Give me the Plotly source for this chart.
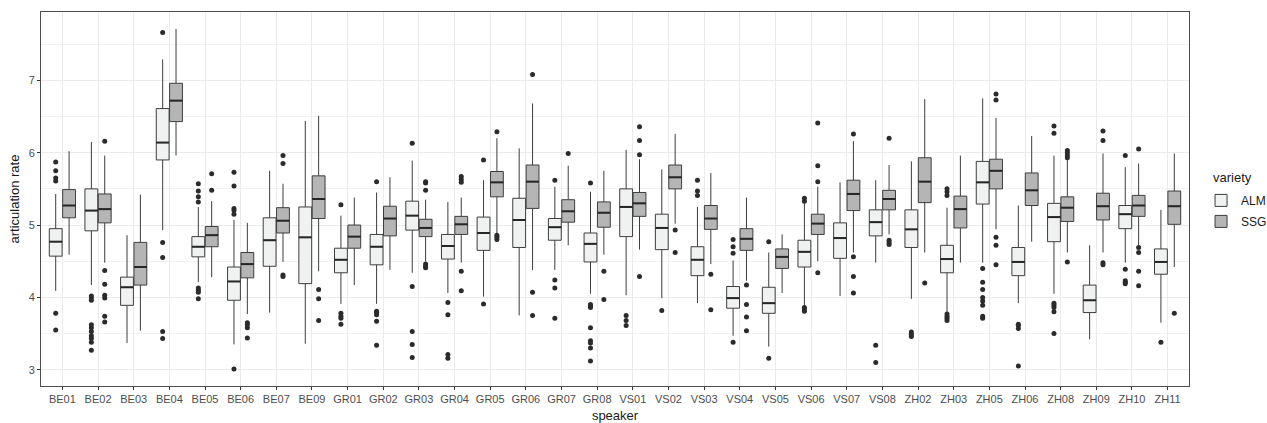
import plotly.graph_objects as go

speakers = ["BE01","BE02","BE03","BE04","BE05","BE06","BE07","BE09",
            "GR01","GR02","GR03","GR04","GR05","GR06","GR07","GR08",
            "VS01","VS02","VS03","VS04","VS05","VS06","VS07","VS08",
            "ZH02","ZH03","ZH05","ZH06","ZH08","ZH09","ZH10","ZH11"]

# ALM: lower whisker, q1, median, q3, upper whisker
alm_low = [4.09,4.17,3.37,4.93,4.21,3.35,3.79,3.36, 3.91,3.91,4.34,4.06,4.01,3.75,4.38,4.05,
           4.03,3.99,3.92,3.47,3.32,3.88,4.02,4.48, 3.98,3.79,4.48,3.92,4.05,3.42,4.48,3.65]
alm_q1 = [4.57,4.92,3.89,5.90,4.56,3.96,4.43,4.19, 4.34,4.45,4.93,4.53,4.65,4.69,4.79,4.49,
          4.84,4.66,4.30,3.85,3.78,4.42,4.54,4.85, 4.69,4.34,5.29,4.30,4.77,3.79,4.95,4.32]
alm_med = [4.77,5.20,4.14,6.14,4.70,4.22,4.79,4.83, 4.52,4.70,5.13,4.71,4.89,5.07,4.97,4.74,
           5.25,4.96,4.52,3.99,3.92,4.63,4.82,5.04, 4.94,4.53,5.59,4.49,5.11,3.96,5.15,4.49]
alm_q3 = [4.95,5.50,4.28,6.61,4.84,4.42,5.10,5.25, 4.68,4.87,5.33,4.87,5.11,5.37,5.09,4.89,
          5.50,5.15,4.70,4.15,4.14,4.79,5.03,5.21, 5.21,4.72,5.88,4.69,5.30,4.17,5.27,4.67]
alm_high = [5.43,6.15,4.86,7.29,5.25,5.07,5.75,6.44, 5.13,5.45,5.89,5.32,5.62,6.06,5.53,5.46,
            6.04,5.77,5.25,4.51,4.62,5.31,5.59,5.62, 5.88,5.24,6.75,5.27,5.96,4.72,5.80,5.21]

# SSG
ssg_low = [4.59,4.48,3.54,5.96,4.28,3.77,4.49,4.36, 4.17,4.38,4.50,4.48,4.88,4.38,4.72,4.59,
           4.66,5.02,4.46,4.23,4.06,4.50,4.62,4.87, 4.62,4.48,4.94,4.77,4.62,4.62,4.71,4.42]
ssg_q1 = [5.10,5.03,4.17,6.43,4.70,4.27,4.89,5.09, 4.68,4.85,4.84,4.87,5.39,5.23,5.04,4.97,
          5.12,5.50,4.94,4.65,4.40,4.87,5.20,5.21, 5.31,4.96,5.50,5.27,5.05,5.07,5.12,5.01]
ssg_med = [5.27,5.22,4.42,6.72,4.86,4.46,5.06,5.36, 4.84,5.09,4.96,5.01,5.59,5.60,5.19,5.17,
           5.30,5.66,5.09,4.81,4.56,5.02,5.43,5.36, 5.60,5.22,5.75,5.48,5.24,5.26,5.27,5.26]
ssg_q3 = [5.49,5.43,4.76,6.96,4.98,4.62,5.24,5.68, 5.00,5.26,5.08,5.12,5.74,5.83,5.35,5.32,
          5.45,5.83,5.27,4.95,4.67,5.15,5.62,5.48, 5.93,5.40,5.91,5.72,5.39,5.44,5.41,5.47]
ssg_high = [6.02,5.96,5.42,7.71,5.33,5.03,5.57,6.51, 5.38,5.66,5.35,5.38,6.20,6.68,5.82,5.75,
            5.91,6.26,5.72,5.38,4.87,5.53,6.16,5.83, 6.74,5.96,6.48,6.23,5.90,5.99,5.85,5.99]

alm_out = [
    [5.87,5.75,5.65,5.61,3.78,3.55],
    [4.02,3.99,3.96,3.62,3.58,3.53,3.47,3.43,3.38,3.27],
    [],
    [7.66,4.76,4.55,3.53,3.43],
    [5.57,5.47,5.39,5.32,4.13,4.10,4.07,3.98],
    [5.73,5.54,5.23,5.20,5.15,3.01],
    [],
    [],
    [5.28,3.78,3.74,3.71,3.63],
    [5.60,3.81,3.79,3.76,3.67,3.34],
    [6.13,4.15,3.53,3.35,3.17],
    [3.93,3.76,3.21,3.16],
    [5.90,3.91],
    [],
    [5.62,4.24,4.13,3.71],
    [5.58,3.90,3.88,3.86,3.58,3.40,3.37,3.30,3.12],
    [3.75,3.68,3.61],
    [3.82],
    [5.62,5.47,5.41],
    [4.80,4.70,4.61,3.38],
    [4.77,3.16],
    [5.37,5.33,3.86,3.84,3.81],
    [],
    [3.34,3.10],
    [3.52,3.49,3.46],
    [5.50,5.46,5.41,3.77,3.74,3.71,3.68],
    [4.40,4.21,4.11,4.00,3.95,3.89,3.74,3.71],
    [3.63,3.61,3.57,3.05],
    [6.37,6.27,3.92,3.89,3.86,3.80,3.50],
    [],
    [5.96,4.39,4.23,4.21,4.19],
    [3.38],
]

ssg_out = [
    [],
    [6.16,4.37,4.18,4.03,3.99,3.74,3.66],
    [],
    [],
    [5.71,5.48],
    [3.65,3.62,3.58,3.44],
    [5.96,5.85,4.31,4.29],
    [4.11,3.98,3.68],
    [],
    [],
    [5.60,5.58,5.48,4.46,4.43,4.41],
    [5.67,5.63,5.59,4.36,4.09],
    [6.29,4.86,4.83,4.80],
    [7.08,4.07,3.75],
    [5.99],
    [4.36,3.97],
    [6.36,6.17,5.97,4.29],
    [4.93,4.62],
    [4.32,3.83],
    [4.17,3.90,3.73,3.54],
    [],
    [6.41,5.82,5.60,4.34],
    [6.26,4.56,4.29,4.06],
    [6.20,4.79,4.76,4.73],
    [4.20],
    [],
    [6.81,6.73,4.83,4.72,4.45],
    [],
    [6.03,6.00,5.96,5.93,4.49],
    [6.30,6.17,4.48,4.45],
    [6.05,4.69,4.62,4.36,4.16],
    [3.78],
]

DODGE = 0.1875
BOXW = 0.36
LINE = "#3d3d3d"

groups = [
    ("ALM", -DODGE, "#F0F2F2", alm_low, alm_q1, alm_med, alm_q3, alm_high, alm_out),
    ("SSG", DODGE, "#B5B5B5", ssg_low, ssg_q1, ssg_med, ssg_q3, ssg_high, ssg_out),
]

fig = go.Figure()
n = len(speakers)
for name, off, fill, lo, q1, med, q3, hi, outs in groups:
    xs = [i + off for i in range(n)]
    fig.add_trace(go.Box(
        name=name, x=xs, q1=q1, median=med, q3=q3, lowerfence=lo, upperfence=hi,
        width=BOXW, fillcolor=fill, line=dict(color=LINE, width=1),
        whiskerwidth=0, boxpoints=False, showlegend=True, hoverinfo="skip",
        legendgroup=name,
    ))
for name, off, fill, lo, q1, med, q3, hi, outs in groups:
    mx, my = [], []
    for i in range(n):
        mx += [i + off - BOXW / 2, i + off + BOXW / 2, None]
        my += [med[i], med[i], None]
    fig.add_trace(go.Scatter(x=mx, y=my, mode="lines", line=dict(color="#262626", width=2),
                             showlegend=False, hoverinfo="skip"))
    ox, oy = [], []
    for i in range(n):
        for v in outs[i]:
            ox.append(i + off)
            oy.append(v)
    fig.add_trace(go.Scatter(x=ox, y=oy, mode="markers",
                             marker=dict(color="#2b2b2b", size=5),
                             showlegend=False, hoverinfo="skip"))

FONT = "Liberation Sans, Arial, sans-serif"
fig.update_layout(
    width=1267, height=423,
    margin=dict(l=41, r=78, t=12, b=37, autoexpand=False),
    paper_bgcolor="white", plot_bgcolor="white",
    font=dict(family=FONT, color="#1a1a1a"),
    boxmode="overlay",
    legend=dict(
        x=1.0105, xanchor="left", y=0.535, yanchor="top",
        font=dict(size=12, color="#1a1a1a"),
        bgcolor="rgba(0,0,0,0)", tracegroupgap=2,
    ),
    annotations=[dict(
        text="variety", xref="paper", yref="paper",
        x=(1211 - 41) / 1148, xanchor="left", y=(386 - 177) / 374, yanchor="middle",
        showarrow=False, font=dict(size=13, color="#1a1a1a"),
    )],
    xaxis=dict(
        range=[-0.6, n - 1 + 0.6],
        tickvals=list(range(n)), ticktext=speakers,
        tickfont=dict(size=11, color="#4d4d4d"),
        ticks="outside", ticklen=3, tickcolor="#333333",
        showgrid=True, gridcolor="#EBEBEB", gridwidth=1,
        zeroline=False, showline=True, mirror=True, linecolor="#4d4d4d", linewidth=1,
        title=dict(text="speaker", font=dict(size=13, color="#1a1a1a"), standoff=10),
        automargin=False,
    ),
    yaxis=dict(
        range=[2.775, 7.945],
        tickvals=[3, 4, 5, 6, 7],
        tickfont=dict(size=11, color="#4d4d4d"),
        ticks="outside", ticklen=3, tickcolor="#333333",
        showgrid=True, gridcolor="#EBEBEB", gridwidth=1,
        minor=dict(tickvals=[3.5, 4.5, 5.5, 6.5, 7.5], showgrid=True,
                   gridcolor="#F2F2F2", gridwidth=1, ticks=""),
        zeroline=False, showline=True, mirror=True, linecolor="#4d4d4d", linewidth=1,
        title=dict(text="articulation rate", font=dict(size=13, color="#1a1a1a"), standoff=6),
        automargin=False,
    ),
)

fig.write_html("out.html")
